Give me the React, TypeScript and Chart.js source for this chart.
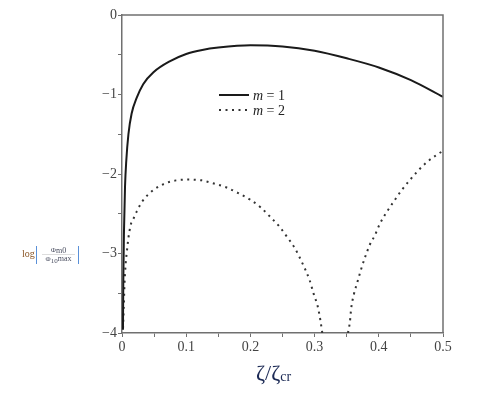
import React, { useEffect, useRef } from "react";
import { Chart, registerables } from "chart.js";

Chart.register(...registerables);

// m = 1 curve
const m1X = [0.0015, 0.002, 0.003, 0.0047, 0.0067, 0.01, 0.015, 0.023, 0.033, 0.049, 0.075, 0.1, 0.125, 0.15, 0.2, 0.25, 0.3, 0.35, 0.4, 0.45, 0.5];
const m1Y = [-3.96, -3.37, -2.75, -2.16, -1.83, -1.5, -1.24, -1.04, -0.87, -0.72, -0.58, -0.49, -0.44, -0.41, -0.38, -0.395, -0.45, -0.545, -0.66, -0.82, -1.03];

// m = 2 curve (two branches, separated by a gap)
const m2X = [0.0016, 0.0027, 0.004, 0.0058, 0.0078, 0.0099, 0.0136, 0.018, 0.023, 0.032, 0.046, 0.064, 0.084, 0.103, 0.124, 0.143, 0.163, 0.181, 0.199, 0.216, 0.231, 0.245, 0.257, 0.269, 0.282, 0.292, 0.299, 0.305, 0.309, 0.312,
  0.33,
  0.352, 0.355, 0.357, 0.361, 0.367, 0.372, 0.378, 0.386, 0.394, 0.402, 0.413, 0.423, 0.435, 0.448, 0.461, 0.475, 0.49, 0.5];
const m2Y: (number | null)[] = [-3.94, -3.69, -3.37, -3.12, -2.96, -2.81, -2.64, -2.56, -2.47, -2.34, -2.22, -2.13, -2.08, -2.07, -2.08, -2.12, -2.17, -2.24, -2.32, -2.42, -2.54, -2.66, -2.79, -2.93, -3.14, -3.33, -3.52, -3.67, -3.84, -4.0,
  null,
  -4.0, -3.86, -3.69, -3.52, -3.35, -3.21, -3.06, -2.89, -2.77, -2.62, -2.47, -2.35, -2.21, -2.08, -1.96, -1.85, -1.76, -1.71];

const seriesLabels = ["m = 1", "m = 2"];
const xRange = [0, 0.5];
const yRange = [-4, 0];

const SERIF = "'Liberation Serif', 'DejaVu Serif', serif";

function drawRuns(ctx: any, runs: [string, number, number][], x: number, y: number) {
  let cx = x;
  for (const [t, size, dy] of runs) {
    ctx.font = `${size}px ${SERIF}`;
    ctx.fillText(t, cx, y + dy);
    cx += ctx.measureText(t).width;
  }
  return cx - x;
}

function runsWidth(ctx: any, runs: [string, number, number][]) {
  let w = 0;
  for (const [t, size] of runs) {
    ctx.font = `${size}px ${SERIF}`;
    w += ctx.measureText(t).width;
  }
  return w;
}

const decorPlugin = {
  id: "decor",
  afterDraw(chart: any) {
    const { ctx, chartArea } = chart;
    const { left, right, top, bottom } = chartArea;
    ctx.save();
    // frame top & right
    ctx.strokeStyle = "#707070";
    ctx.lineWidth = 1.5;
    ctx.beginPath();
    ctx.moveTo(left, top);
    ctx.lineTo(right, top);
    ctx.lineTo(right, bottom);
    ctx.stroke();

    // legend
    const lx = 219;
    const rows = [95, 110];
    ctx.strokeStyle = "#1a1a1a";
    ctx.lineWidth = 2;
    ctx.beginPath();
    ctx.moveTo(lx, rows[0]);
    ctx.lineTo(lx + 30, rows[0]);
    ctx.stroke();
    ctx.setLineDash([2, 4.5]);
    ctx.strokeStyle = "#333";
    ctx.beginPath();
    ctx.moveTo(lx, rows[1]);
    ctx.lineTo(lx + 28, rows[1]);
    ctx.stroke();
    ctx.setLineDash([]);
    ctx.fillStyle = "#222";
    ctx.textBaseline = "middle";
    ctx.textAlign = "left";
    seriesLabels.forEach((lab, i) => {
      const parts = lab.split(" ");
      ctx.font = `italic 14px ${SERIF}`;
      ctx.fillText(parts[0], 253, rows[i] + 1);
      const w = ctx.measureText(parts[0]).width;
      ctx.font = `14px ${SERIF}`;
      ctx.fillText(" " + parts.slice(1).join(" "), 253 + w, rows[i] + 1);
    });

    // x axis title  ζ/ζcr
    ctx.fillStyle = "#1c2a55";
    ctx.textBaseline = "alphabetic";
    ctx.font = `22px ${SERIF}`;
    let x = 256;
    const by = 380;
    ctx.fillText("ζ", x, by);
    x += ctx.measureText("ζ").width;
    ctx.fillText("/", x, by);
    x += ctx.measureText("/").width;
    ctx.fillText("ζ", x, by);
    x += ctx.measureText("ζ").width;
    ctx.font = `14px ${SERIF}`;
    ctx.fillText("cr", x, by + 1);

    // y axis title  log |Φm0 / Φ10max|
    ctx.fillStyle = "#8a5524";
    ctx.font = `10px ${SERIF}`;
    ctx.fillText("log", 22, 257);
    ctx.strokeStyle = "#5a90d8";
    ctx.lineWidth = 1;
    ctx.beginPath();
    ctx.moveTo(36.5, 246);
    ctx.lineTo(36.5, 264);
    ctx.moveTo(78.5, 246);
    ctx.lineTo(78.5, 264);
    ctx.stroke();
    ctx.strokeStyle = "#bbb";
    ctx.lineWidth = 0.5;
    ctx.beginPath();
    ctx.moveTo(42, 254.5);
    ctx.lineTo(75, 254.5);
    ctx.stroke();
    ctx.fillStyle = "#4a4e60";
    const num: [string, number, number][] = [["Φ", 7, 0], ["m0", 8, 1]];
    const den: [string, number, number][] = [["Φ", 7, 0], ["10", 7, 1.5], ["max", 8, -0.5]];
    const cxm = 58.5;
    drawRuns(ctx, num, cxm - runsWidth(ctx, num) / 2, 252);
    drawRuns(ctx, den, cxm - runsWidth(ctx, den) / 2, 261);
    ctx.restore();
  },
};

export default function App() {
  const ref = useRef<HTMLCanvasElement>(null);
  useEffect(() => {
    if (!ref.current) return;
    const d1 = m1X.map((x, i) => ({ x, y: m1Y[i] }));
    const d2 = m2X.map((x, i) => ({ x, y: m2Y[i] }));
    const chart = new Chart(ref.current, {
      type: "line",
      data: {
        datasets: [
          {
            label: seriesLabels[0],
            data: d1 as any,
            borderColor: "#1a1a1a",
            borderWidth: 2,
            pointRadius: 0,
            cubicInterpolationMode: "monotone",
            fill: false,
          },
          {
            label: seriesLabels[1],
            data: d2 as any,
            borderColor: "#333",
            borderWidth: 2,
            borderDash: [2, 4.5],
            pointRadius: 0,
            cubicInterpolationMode: "monotone",
            spanGaps: false,
            fill: false,
          },
        ],
      },
      options: {
        animation: false,
        responsive: false,
        maintainAspectRatio: false,
        layout: { padding: { top: 15, right: 44, left: 0, bottom: 0 } },
        plugins: { legend: { display: false }, tooltip: { enabled: false }, title: { display: false } },
        scales: {
          x: {
            type: "linear",
            min: xRange[0],
            max: xRange[1],
            afterFit(scale: any) {
              scale.height = 69;
            },
            border: { color: "#707070", width: 1.5 },
            grid: { drawOnChartArea: false, drawTicks: true, tickLength: 4, color: "#707070", lineWidth: 1 },
            ticks: {
              stepSize: 0.05,
              autoSkip: false,
              maxRotation: 0,
              padding: 2,
              color: "#444",
              font: { family: SERIF, size: 14 },
              callback: (v: any) => {
                const n = Number(v);
                if (Math.abs(n * 10 - Math.round(n * 10)) < 1e-6) {
                  const r = Math.round(n * 10) / 10;
                  return r === 0 ? "0" : r.toFixed(1);
                }
                return "";
              },
            },
          },
          y: {
            type: "linear",
            min: yRange[0],
            max: yRange[1],
            afterFit(scale: any) {
              scale.width = 122;
            },
            border: { color: "#707070", width: 1.5 },
            grid: { drawOnChartArea: false, drawTicks: true, tickLength: 4, color: "#707070", lineWidth: 1 },
            ticks: {
              stepSize: 0.5,
              autoSkip: false,
              padding: 1,
              color: "#444",
              font: { family: SERIF, size: 14 },
              callback: (v: any) => {
                const n = Number(v);
                if (Math.abs(n - Math.round(n)) < 1e-6) {
                  const r = Math.round(n);
                  return r < 0 ? "\u2212" + Math.abs(r) : "0";
                }
                return "";
              },
            },
          },
        },
      },
      plugins: [decorPlugin],
    });
    return () => chart.destroy();
  }, []);
  return (
    <div style={{ position: "absolute", left: 0, top: 0, width: 487, height: 402, background: "#fff" }}>
      <canvas ref={ref} width={487} height={402} style={{ display: "block", width: 487, height: 402 }} />
    </div>
  );
}
